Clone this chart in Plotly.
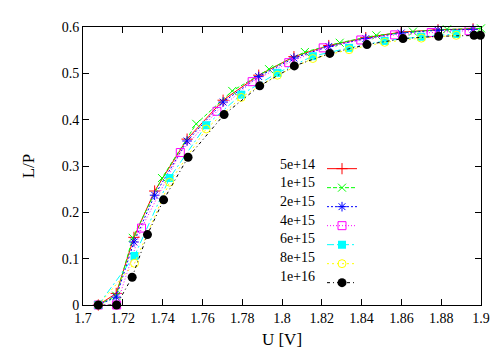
import plotly.graph_objects as go

# ── Data ───────────────────────────────────────────────────────────────────────

labels = ["5e+14", "1e+15", "2e+15", "4e+15", "6e+15", "8e+15", "1e+16"]

u_5e14 = [1.7077, 1.7167, 1.7256, 1.7360, 1.7523, 1.7704, 1.7883, 1.8060, 1.8235, 1.8421, 1.8599, 1.8784, 1.8960]
lp_5e14 = [0.0, 0.025, 0.146, 0.246, 0.358, 0.442, 0.496, 0.536, 0.560, 0.577, 0.589, 0.594, 0.596]

u_1e15 = [1.7077, 1.7167, 1.7250, 1.7397, 1.7569, 1.7750, 1.7935, 1.8115, 1.8290, 1.8474, 1.8658, 1.8829, 1.9000]
lp_1e15 = [0.0, 0.020, 0.145, 0.274, 0.391, 0.462, 0.509, 0.546, 0.566, 0.582, 0.590, 0.595, 0.597]

u_2e15 = [1.7077, 1.7167, 1.7256, 1.7360, 1.7523, 1.7704, 1.7883, 1.8060, 1.8235, 1.8421, 1.8599, 1.8784, 1.8960]
lp_2e15 = [0.0, 0.017, 0.136, 0.237, 0.354, 0.438, 0.493, 0.533, 0.558, 0.575, 0.587, 0.593, 0.595]

u_4e15 = [1.7077, 1.7169, 1.7294, 1.7489, 1.7673, 1.7850, 1.8034, 1.8207, 1.8396, 1.8566, 1.8750, 1.8940]
lp_4e15 = [0.0, 0.0, 0.166, 0.329, 0.418, 0.482, 0.523, 0.555, 0.572, 0.583, 0.588, 0.592]

u_6e15 = [1.7077, 1.7259, 1.7435, 1.7619, 1.7795, 1.7977, 1.8155, 1.8337, 1.8516, 1.8700, 1.8876]
lp_6e15 = [0.0, 0.106, 0.274, 0.388, 0.454, 0.501, 0.537, 0.555, 0.570, 0.579, 0.585]

u_8e15 = [1.7077, 1.7259, 1.7435, 1.7619, 1.7795, 1.7977, 1.8155, 1.8337, 1.8516, 1.8700, 1.8876]
lp_8e15 = [0.0, 0.090, 0.265, 0.380, 0.448, 0.496, 0.532, 0.551, 0.567, 0.576, 0.582]

u_1e16 = [1.7077, 1.7169, 1.7247, 1.7324, 1.7405, 1.7528, 1.7709, 1.7888, 1.8062, 1.8240, 1.8427, 1.8608, 1.8787, 1.8965, 1.8997]
lp_1e16 = [0.0, 0.0, 0.060, 0.152, 0.227, 0.319, 0.411, 0.473, 0.516, 0.543, 0.562, 0.575, 0.580, 0.582, 0.582]

series_u = [u_5e14, u_1e15, u_2e15, u_4e15, u_6e15, u_8e15, u_1e16]
series_lp = [lp_5e14, lp_1e15, lp_2e15, lp_4e15, lp_6e15, lp_8e15, lp_1e16]

# gnuplot-like line types
COLORS = ["#ff0000", "#00ff00", "#0000ff", "#ff00ff", "#00ffff", "#ffff00", "#000000"]
DASHES = ["solid", "4px,2px", "2px,2px", "1px,2px", "7px,3px,2px,3px", "2px,3px", "3px,3px,1px,3px"]
SYMBOLS = ["cross-thin-open", "x-thin-open", "asterisk-open", "square-open", "square", "circle-open", "circle"]
SIZES = [8, 8, 8, 8, 8, 8, 9]

FONT = "Liberation Serif, Times New Roman, serif"

fig = go.Figure()

for i, name in enumerate(labels):
    filled = SYMBOLS[i] in ("square", "circle")
    marker = dict(symbol=SYMBOLS[i], size=SIZES[i], color=COLORS[i],
                  line=dict(color=COLORS[i], width=0 if filled else 1))
    fig.add_trace(go.Scatter(
        x=series_u[i],
        y=series_lp[i],
        mode="lines+markers",
        name=name,
        legendgroup=name,
        showlegend=False,
        line=dict(color=COLORS[i], width=1, dash=DASHES[i]),
        marker=marker,
        cliponaxis=False,
    ))
    # legend sample only, the text is drawn on its left like gnuplot does
    fig.add_trace(go.Scatter(
        x=[None], y=[None],
        mode="lines+markers",
        name=" ",
        legendgroup=name,
        line=dict(color=COLORS[i], width=1, dash=DASHES[i]),
        marker=marker,
    ))

# ── Legend labels ──────────────────────────────────────────────────────────────

ROW_TOP = 158      # px of first legend row
ROW_STEP = 19      # px between legend rows
PLOT_TOP, PLOT_H = 19, 282
for i, name in enumerate(labels):
    fig.add_annotation(
        text=name,
        xref="paper", yref="paper",
        x=(309 - 75) / 398, xanchor="right",
        y=1 - (ROW_TOP + ROW_STEP * i - PLOT_TOP) / PLOT_H, yanchor="middle",
        showarrow=False,
        font=dict(family=FONT, size=14, color="black"),
    )

axis_style = dict(
    showline=True, linecolor="black", linewidth=1, mirror="ticks",
    ticks="inside", ticklen=6, tickcolor="black",
    showgrid=False, zeroline=False,
    tickfont=dict(family=FONT, size=14, color="black"),
)

fig.update_layout(
    width=500, height=350,
    margin=dict(l=75, r=27, t=19, b=49),
    plot_bgcolor="white", paper_bgcolor="white",
    font=dict(family=FONT, size=14, color="black"),
    xaxis=dict(range=[1.7, 1.9], tick0=1.7, dtick=0.02,
               title=dict(text="U [V]", standoff=8), **axis_style),
    yaxis=dict(range=[0, 0.6], tick0=0, dtick=0.1,
               title=dict(text="L/P", standoff=22), **axis_style),
    legend=dict(
        x=(314 - 75) / 398, xanchor="left",
        y=1 - (ROW_TOP - 10 - PLOT_TOP) / PLOT_H, yanchor="top",
        bgcolor="rgba(0,0,0,0)", font=dict(size=10),
        tracegroupgap=0,
    ),
)

fig.write_html("out.html")
